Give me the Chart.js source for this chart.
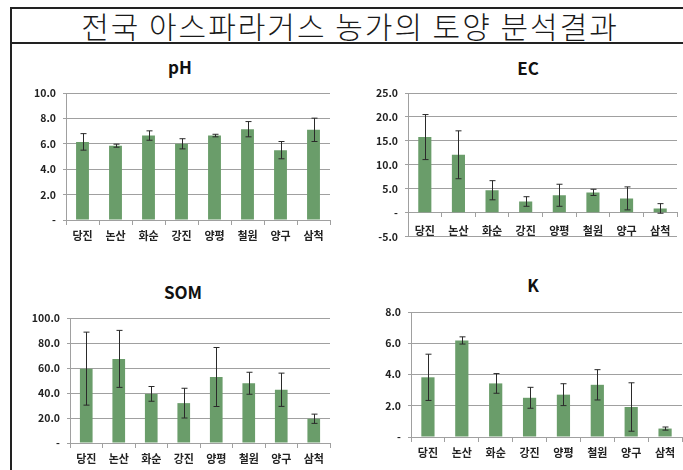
<!DOCTYPE html>
<html>
<head>
<meta charset="utf-8">
<script src="https://cdn.jsdelivr.net/npm/chart.js@4.4.0/dist/chart.umd.min.js"></script>
<style>
  body { margin: 0; background: #fff; }
  #page { position: relative; width: 683px; height: 470px; overflow: hidden; background: #fff; }
  .line { position: absolute; background: #222; }
  #bigTitle {
    position: absolute; left: 12px; top: 9px; width: 676px; height: 33px;
    line-height: 33px; text-align: center; font-size: 30px; letter-spacing: 2px;
    font-weight: 300; font-family: "Noto Sans CJK KR", sans-serif; color: #1a1a1a;
  }
  .panel { position: absolute; }
  .ctitle {
    position: absolute; width: 120px; height: 22px; line-height: 22px; text-align: center;
    font-family: "Noto Sans CJK KR", "Noto Sans", sans-serif; font-weight: bold; font-size: 17px; color: #111;
  }
</style>
</head>
<body>
<div id="page">
  <div class="line" style="left:10px;top:7px;width:2px;height:463px"></div>
  <div class="line" style="left:10px;top:7px;width:673px;height:2px"></div>
  <div class="line" style="left:10px;top:42px;width:673px;height:2px"></div>
  <div id="bigTitle">전국 아스파라거스 농가의 토양 분석결과</div>

  <div class="ctitle" style="left:120px;top:56px">pH</div>
  <div class="ctitle" style="left:468px;top:57px">EC</div>
  <div class="ctitle" style="left:123px;top:281px">SOM</div>
  <div class="ctitle" style="left:473px;top:274px">K</div>

  <div class="panel" style="left:20px;top:45px;width:312px;height:200px"><canvas id="chartPH"></canvas></div>
  <div class="panel" style="left:365px;top:45px;width:314px;height:205px"><canvas id="chartEC"></canvas></div>
  <div class="panel" style="left:18px;top:270px;width:314px;height:200px"><canvas id="chartSOM"></canvas></div>
  <div class="panel" style="left:370px;top:265px;width:313px;height:205px"><canvas id="chartK"></canvas></div>
</div>

<script>
// 지역
const regions = ['당진', '논산', '화순', '강진', '양평', '철원', '양구', '삼척'];

// pH
const phMean = [6.15, 5.85, 6.65, 6.0, 6.65, 7.15, 5.5, 7.1];
const phErr  = [0.65, 0.12, 0.37, 0.4, 0.1, 0.6, 0.68, 0.92];

// EC
const ecMean = [15.8, 12.1, 4.7, 2.35, 3.65, 4.25, 3.0, 0.9];
const ecErr  = [4.7, 5.0, 2.0, 1.0, 2.3, 0.65, 2.4, 1.0];

// SOM
const somMean = [59.5, 67.3, 39.3, 31.9, 52.8, 47.8, 42.6, 19.4];
const somErr  = [29.2, 22.8, 5.9, 11.9, 23.6, 8.8, 13.3, 3.7];

// K
const kMean = [3.82, 6.18, 3.43, 2.51, 2.71, 3.34, 1.92, 0.54];
const kErr  = [1.48, 0.23, 0.63, 0.67, 0.7, 0.97, 1.55, 0.1];

const barColor = 'rgb(106, 157, 106)';
const gridColor = '#a0a0a0';
const fontFamily = '"Noto Sans CJK KR", "Noto Sans", sans-serif';

// error bars drawn from the y scale
const errorBars = {
  id: 'errorBars',
  afterDatasetsDraw(chart) {
    const ctx = chart.ctx;
    const ys = chart.scales.y;
    chart.data.datasets.forEach((ds, di) => {
      const meta = chart.getDatasetMeta(di);
      meta.data.forEach((bar, i) => {
        const v = ds.data[i], e = ds.errors[i];
        const yTop = ys.getPixelForValue(v + e);
        const yBot = ys.getPixelForValue(v - e);
        const x = Math.round(bar.x) + 0.5;
        ctx.save();
        ctx.strokeStyle = '#2a2a2a';
        ctx.lineWidth = 1;
        ctx.beginPath();
        ctx.moveTo(x, yTop); ctx.lineTo(x, yBot);
        ctx.moveTo(x - 3, yTop); ctx.lineTo(x + 3, yTop);
        ctx.moveTo(x - 3, yBot); ctx.lineTo(x + 3, yBot);
        ctx.stroke();
        ctx.restore();
      });
    });
  }
};

function makeChart(id, name, means, errs, yMin, yMax, step, yWidth, pad, labelPad) {
  return new Chart(document.getElementById(id), {
    type: 'bar',
    data: {
      labels: regions,
      datasets: [{
        label: name,
        data: means,
        errors: errs,
        backgroundColor: barColor,
        borderWidth: 0,
        barPercentage: 0.39,
        categoryPercentage: 1.0
      }]
    },
    plugins: [errorBars],
    options: {
      responsive: true,
      maintainAspectRatio: false,
      animation: false,
      layout: { padding: pad },
      plugins: {
        legend: { display: false },
        tooltip: { enabled: false },
        title: { display: false }
      },
      scales: {
        x: {
          position: { y: 0 },
          grid: { display: true, drawOnChartArea: false, drawTicks: true, tickLength: 4, color: gridColor, offset: true },
          border: { display: true, color: gridColor },
          ticks: { color: '#222', padding: labelPad, font: { family: fontFamily, size: 11, weight: 'bold' } }
        },
        y: {
          min: yMin,
          max: yMax,
          afterFit(scale) { scale.width = yWidth; },
          grid: { color: gridColor, tickLength: 3 },
          border: { display: true, color: gridColor },
          ticks: {
            stepSize: step,
            padding: 7,
            color: '#222',
            font: { family: fontFamily, size: 10.5, weight: 'bold' },
            callback: (v) => v === 0 ? '-' : Number(v).toFixed(1)
          }
        }
      }
    }
  });
}

makeChart('chartPH', 'pH', phMean, phErr, 0, 10, 2, 46,
  { left: 0, right: 2, top: 48, bottom: 25 }, 5);
makeChart('chartEC', 'EC', ecMean, ecErr, -5, 25, 5, 43,
  { left: 0, right: 2, top: 48, bottom: 10 }, 7);
makeChart('chartSOM', 'SOM', somMean, somErr, 0, 100, 20, 52,
  { left: 0, right: 2, top: 48, bottom: 27 }, 5);
makeChart('chartK', 'K', kMean, kErr, 0, 8, 2, 41,
  { left: 0, right: 1, top: 47, bottom: 33 }, 5);
</script>
</body>
</html>
